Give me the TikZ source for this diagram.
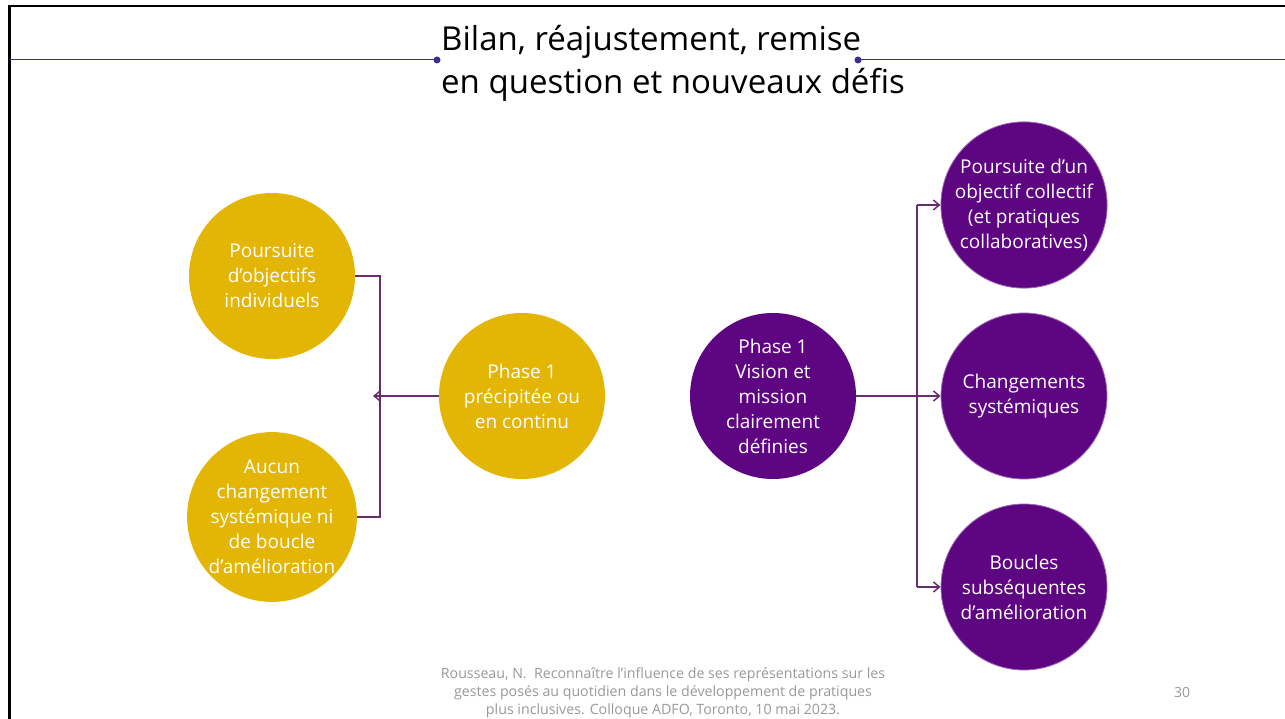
\documentclass[tikz,border=0pt]{standalone}
\usepackage{fontspec}
\setmainfont{Open Sans}
\usetikzlibrary{arrows.meta}
\definecolor{gold}{HTML}{E3B505}
\definecolor{violet}{HTML}{5E0582}
\definecolor{conn}{HTML}{6A2C6E}
\definecolor{rule}{HTML}{3B2F8F}
\tikzset{
  yc/.style={circle,fill=gold,minimum size=166pt,inner sep=0pt,text=white,align=center,font=\fontsize{19}{25}\selectfont},
  pc/.style={circle,fill=violet,minimum size=166pt,inner sep=0pt,text=white,align=center,font=\fontsize{19}{25}\selectfont},
  cn/.style={draw=conn,line width=1.8pt},
  ar/.style={cn,-{Straight Barb[length=6pt,width=10pt,line width=1.5pt]}},
}
\begin{document}
\begin{tikzpicture}[x=1pt,y=-1pt]
\useasboundingbox (0,0) rectangle (1285,719);
\fill[white] (0,0) rectangle (1285,719);
\draw[black,line width=2.5pt] (9.5,719) -- (9.5,6) -- (1285,6);
% title rules
\coordinate (r1) at (10,60);
\coordinate (r4) at (1285,60);
\node[circle,fill=rule,inner sep=0pt,minimum size=7pt] (d1) at (437,60) {};
\node[circle,fill=rule,inner sep=0pt,minimum size=7pt] (d2) at (858,60) {};
\draw[rule,line width=1pt] (r1) -- (d1.center);
\draw[rule,line width=1pt] (d2.center) -- (r4);
\node[font=\fontsize{33}{43}\selectfont,align=left,anchor=west,inner sep=0pt] (title) at (441,63) {Bilan, réajustement, remise\\en question et nouveaux défis};
% circles
\node[yc] (a) at (272,276) {Poursuite\\d’objectifs\\individuels};
\node[yc] (b) at (272,517) {Aucun\\changement\\systémique ni\\de boucle\\d’amélioration};
\node[yc] (c) at (522,396) {Phase 1\\précipitée ou\\en continu};
\node[pc] (d) at (773,396) {Phase 1\\Vision et\\mission\\clairement\\définies};
\node[pc,draw=violet!60!white,line width=0.8pt] (e) at (1024,205) {Poursuite d’un\\objectif collectif\\(et pratiques\\collaboratives)};
\node[pc,draw=violet!60!white,line width=0.8pt] (f) at (1024,396) {Changements\\systémiques};
\node[pc,draw=violet!60!white,line width=0.8pt] (g) at (1024,587) {Boucles\\subséquentes\\d’amélioration};
% left connectors
\coordinate (j) at (380,396);
\draw[cn] (a.east) -- (a.east -| j) -- (b.east -| j) -- (b.east);
\draw[ar] (c.west) -- (373,396);
% right connectors
\coordinate (k) at (917,396);
\draw[cn] (d.east) -- (k);
\draw[cn] (k |- e.west) -- (k |- g.west);
\draw[ar] (k |- e.west) -- (e.west);
\draw[ar] (k) -- (f.west);
\draw[ar] (k |- g.west) -- (g.west);
% footer
\node[text=gray!80,font=\fontsize{14.2}{18}\selectfont,align=center] (foot) at (663,693) {Rousseau, N.\ \ Reconnaître l'influence de ses représentations sur les\\gestes posés au quotidien dans le développement de pratiques\\plus inclusives. Colloque ADFO, Toronto, 10 mai 2023.};
\node[text=gray!80,font=\fontsize{14}{18}\selectfont] (pg) at (1182,692) {30};
\end{tikzpicture}
\end{document}
